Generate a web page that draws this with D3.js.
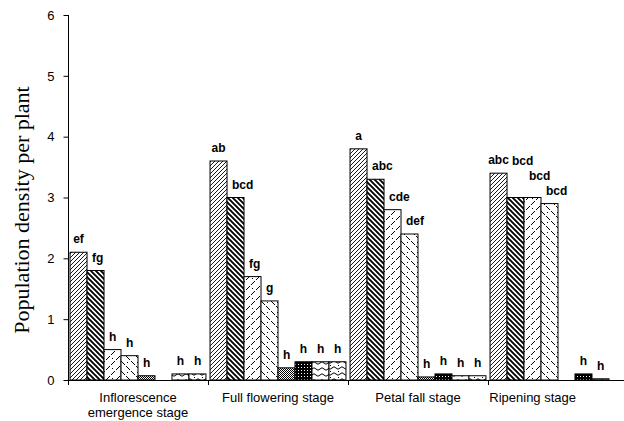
<!DOCTYPE html>
<html>
<head>
<meta charset="utf-8">
<script src="https://cdn.jsdelivr.net/npm/d3@7"></script>
<style>
  html, body { margin: 0; padding: 0; background: #fff; }
  svg { display: block; }
</style>
</head>
<body>
<svg id="chart" width="624" height="421"></svg>
<script>
// Growth stages on the category axis
const stages = [
  ["Inflorescence", "emergence stage"],
  ["Full flowering stage"],
  ["Petal fall stage"],
  ["Ripening stage"]
];
const stageKeys = stages.map(s => s.join(" "));

// Population density per plant, one array per treatment (null = no bar)
const series1 = [2.1, 3.6, 3.8, 3.4];
const series2 = [1.8, 3.0, 3.3, 3.0];
const series3 = [0.5, 1.7, 2.8, 3.0];
const series4 = [0.4, 1.3, 2.4, 2.9];
const series5 = [0.07, 0.2, 0.05, null];
const series6 = [null, 0.3, 0.1, 0.1];
const series7 = [0.1, 0.3, 0.07, 0.02];
const series8 = [0.1, 0.3, 0.07, null];
const seriesValues = [series1, series2, series3, series4, series5, series6, series7, series8];

// Mean-separation letters, in the same layout as the values
const letters1 = ["ef", "ab", "a", "abc"];
const letters2 = ["fg", "bcd", "abc", "bcd"];
const letters3 = ["h", "fg", "cde", "bcd"];
const letters4 = ["h", "g", "def", "bcd"];
const letters5 = ["h", "h", "h", null];
const letters6 = [null, "h", "h", "h"];
const letters7 = ["h", "h", "h", "h"];
const letters8 = ["h", "h", "h", null];
const seriesLetters = [letters1, letters2, letters3, letters4, letters5, letters6, letters7, letters8];

const yTicks = [0, 1, 2, 3, 4, 5, 6];

const svg = d3.select("#chart");
const W = 624;
const plotLeft = 68, plotRight = 628, plotTop = 15, plotBottom = 380;

// ---- fill patterns, one per treatment ----
const defs = svg.append("defs");
function pattern(id, w, h, build) {
  const p = defs.append("pattern").attr("id", id)
    .attr("patternUnits", "userSpaceOnUse").attr("width", w).attr("height", h);
  p.append("rect").attr("width", w).attr("height", h).attr("fill", "#fff");
  build(p);
}
// light upward diagonal
pattern("p0", 4, 4, p => p.append("path")
  .attr("d", "M-1,1 l2,-2 M0,4 l4,-4 M3,5 l2,-2")
  .attr("stroke", "#000").attr("stroke-width", 0.9));
// heavy downward diagonal
pattern("p1", 5, 5, p => p.append("path")
  .attr("d", "M0,0 l5,5 M-1,4 l2,2 M4,-1 l2,2")
  .attr("stroke", "#000").attr("stroke-width", 1.9));
// dashed upward diagonal
pattern("p2", 10, 10, p => {
  p.append("path").attr("d", "M1,5 L5,1 M6,10 L10,6")
    .attr("stroke", "#000").attr("stroke-width", 1);
  p.append("rect").attr("x", 2).attr("y", 8).attr("width", 1).attr("height", 1).attr("fill", "#000");
});
// dashed downward diagonal
pattern("p3", 10, 10, p => {
  p.append("path").attr("d", "M1,1 L5,5 M6,6 L10,10")
    .attr("stroke", "#000").attr("stroke-width", 1);
  p.append("rect").attr("x", 7).attr("y", 2).attr("width", 1).attr("height", 1).attr("fill", "#000");
});
// small checker board
pattern("p4", 2, 2, p => {
  p.append("rect").attr("x", 0).attr("y", 0).attr("width", 1).attr("height", 1).attr("fill", "#000");
  p.append("rect").attr("x", 1).attr("y", 1).attr("width", 1).attr("height", 1).attr("fill", "#000");
});
// dark with white dots
pattern("p5", 3, 3, p => {
  p.append("rect").attr("width", 3).attr("height", 3).attr("fill", "#000");
  p.append("rect").attr("x", 1).attr("y", 1).attr("width", 1).attr("height", 1).attr("fill", "#fff");
});
// wave
pattern("p6", 8, 6, p => p.append("path")
  .attr("d", "M0,3 Q2,0.5 4,3 T8,3").attr("fill", "none")
  .attr("stroke", "#000").attr("stroke-width", 1));
// wave with dots
pattern("p7", 8, 6, p => {
  p.append("path").attr("d", "M0,2 Q2,4.5 4,2 T8,2").attr("fill", "none")
    .attr("stroke", "#000").attr("stroke-width", 1);
  p.append("rect").attr("x", 2).attr("y", 5).attr("width", 1).attr("height", 1).attr("fill", "#000");
});

// ---- scales ----
const x0 = d3.scaleBand().domain(stageKeys).range([plotLeft, plotRight]).paddingInner(0).paddingOuter(0);
const x1 = d3.scaleBand().domain(d3.range(seriesValues.length)).range([0, x0.bandwidth()])
  .paddingInner(0).paddingOuter(0.12);
const y = d3.scaleLinear().domain([0, 6]).range([plotBottom, plotTop]);

// ---- bars ----
const cells = [];
stageKeys.forEach((k, gi) => {
  seriesValues.forEach((vals, si) => {
    cells.push({ stage: k, gi, si, value: vals[gi], letter: seriesLetters[si][gi] });
  });
});

svg.append("g").selectAll("rect")
  .data(cells.filter(d => d.value != null))
  .join("rect")
  .attr("x", d => x0(d.stage) + x1(d.si))
  .attr("y", d => y(d.value))
  .attr("width", x1.bandwidth())
  .attr("height", d => y(0) - y(d.value))
  .attr("fill", d => `url(#p${d.si})`)
  .attr("stroke", "#000")
  .attr("stroke-width", 1);

// ---- axes ----
const yAxis = svg.append("g")
  .attr("transform", `translate(${plotLeft + 0.5},0)`)
  .call(d3.axisLeft(y).tickValues(yTicks).tickFormat(d3.format("d")).tickSize(5).tickPadding(9));
yAxis.select(".domain").attr("d", `M0,${plotTop}V${plotBottom}`).attr("stroke", "#000");
yAxis.selectAll("text").attr("font-family", "Liberation Sans, Arial, sans-serif")
  .attr("font-size", 13).attr("fill", "#000");

const xAxisG = svg.append("g");
xAxisG.append("line")
  .attr("x1", plotLeft).attr("x2", W).attr("y1", plotBottom + 0.5).attr("y2", plotBottom + 0.5)
  .attr("stroke", "#000");
xAxisG.selectAll("line.tick")
  .data(stageKeys)
  .join("line").attr("class", "tick")
  .attr("x1", d => Math.round(x0(d)) + 0.5).attr("x2", d => Math.round(x0(d)) + 0.5)
  .attr("y1", plotBottom).attr("y2", plotBottom + 5)
  .attr("stroke", "#000");

// category labels, kept inside the visible width
const catLabels = xAxisG.selectAll("text.cat")
  .data(stages)
  .join("text").attr("class", "cat")
  .attr("font-family", "Liberation Sans, Arial, sans-serif")
  .attr("font-size", 13).attr("fill", "#000")
  .attr("text-anchor", "middle");
catLabels.each(function(lines, i) {
  const t = d3.select(this);
  lines.forEach((ln, li) => {
    t.append("tspan").attr("x", 0).attr("y", plotBottom + 22 + li * 15).text(ln);
  });
  const w = this.getBBox().width;
  let cx = x0(stageKeys[i]) + x0.bandwidth() / 2;
  if (cx + w / 2 > W - 48) cx = W - 48 - w / 2;
  t.attr("transform", `translate(${cx},0)`);
});

// y axis title
svg.append("text")
  .attr("transform", `translate(29,210) rotate(-90)`)
  .attr("text-anchor", "middle")
  .attr("font-family", "Liberation Serif, Times New Roman, serif")
  .attr("font-size", 22).attr("fill", "#000")
  .text("Population density per plant");

// ---- significance letters above bars ----
const lab = svg.append("g").selectAll("text")
  .data(cells.filter(d => d.value != null && d.letter))
  .join("text")
  .attr("font-family", "Liberation Sans, Arial, sans-serif")
  .attr("font-size", 12).attr("font-weight", "bold").attr("fill", "#000")
  .attr("text-anchor", "middle")
  .attr("y", d => y(d.value) - 9)
  .text(d => d.letter);

// shift a letter right of a taller left neighbour
lab.each(function(d) {
  const w = this.getComputedTextLength();
  const left0 = x0(d.stage) + x1(d.si);
  let cx = left0 + x1.bandwidth() / 2;
  const prev = d.si > 0 ? seriesValues[d.si - 1][d.gi] : null;
  if (prev != null && prev >= d.value) {
    cx = Math.max(cx, left0 + 5 + w / 2);
  }
  d3.select(this).attr("x", cx);
});

// within each stage, lift a letter that collides with the one to its right
const nodes = lab.nodes();
for (let i = nodes.length - 2; i >= 0; i--) {
  const a = d3.select(nodes[i]), b = d3.select(nodes[i + 1]);
  if (a.datum().gi !== b.datum().gi) continue;
  const ba = nodes[i].getBBox(), bb = nodes[i + 1].getBBox();
  const overlapX = ba.x < bb.x + bb.width && bb.x < ba.x + ba.width;
  const overlapY = ba.y < bb.y + bb.height && bb.y < ba.y + ba.height;
  if (overlapX && overlapY) {
    const shift = (ba.y + ba.height) - bb.y + 1;
    a.attr("y", +a.attr("y") - shift);
  }
}
</script>
</body>
</html>
